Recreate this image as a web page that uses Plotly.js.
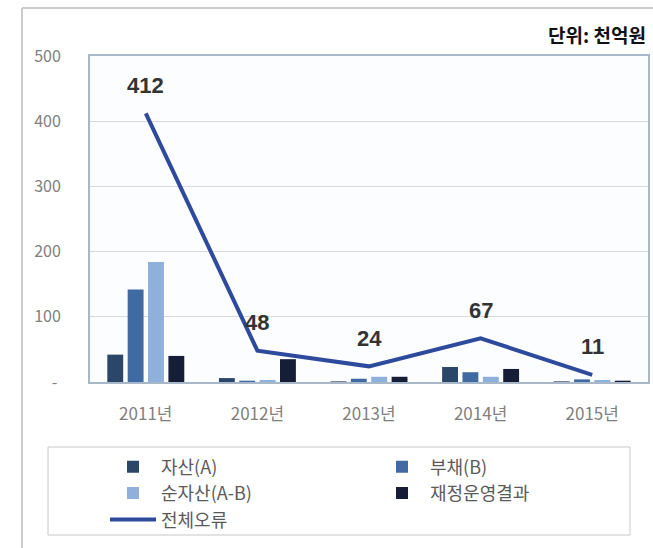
<!DOCTYPE html>
<html>
<head>
<meta charset="utf-8">
<script src="https://cdn.plot.ly/plotly-3.0.1.min.js"></script>
<style>
  html, body { margin: 0; padding: 0; background: #ffffff; }
  #chart { width: 653px; height: 548px; }
</style>
</head>
<body>
<div id="chart"></div>
<script>
// ---- data ----
var categories = ['2011년', '2012년', '2013년', '2014년', '2015년'];
var assets     = [42, 6, 1, 23, 1];      // 자산(A)
var liabilities = [142, 2, 5, 15, 4];    // 부채(B)
var netAssets  = [184, 3, 8, 8, 3];      // 순자산(A-B)
var opResult   = [40, 35, 8, 20, 2];     // 재정운영결과
var totalError = [412, 48, 24, 67, 11];  // 전체오류
var yTickVals  = [0, 100, 200, 300, 400, 500];
var yTickText  = ['-\u00a0', '100', '200', '300', '400', '500'];

var KFONT = '"Noto Sans CJK KR", "Noto Sans", sans-serif';

var traces = [
  { type: 'bar', name: '자산(A)', x: categories, y: assets, marker: { color: '#2c4669' } },
  { type: 'bar', name: '부채(B)', x: categories, y: liabilities, marker: { color: '#3f6aa2' } },
  { type: 'bar', name: '순자산(A-B)', x: categories, y: netAssets, marker: { color: '#8eb0db' } },
  { type: 'bar', name: '재정운영결과', x: categories, y: opResult, marker: { color: '#161d36' } },
  { type: 'scatter', mode: 'lines', name: '전체오류', x: categories, y: totalError,
    line: { color: '#2d4a9c', width: 4 } }
];

var annotations = totalError.map(function (v, i) {
  return {
    x: categories[i], y: v, xref: 'x', yref: 'y',
    text: String(v), showarrow: false, yshift: 28,
    font: { family: '"Liberation Sans", Arial, sans-serif', size: 22, color: '#333333', weight: 'bold' }
  };
});
annotations.push({
  xref: 'paper', yref: 'paper', x: 1, y: 1.065, xanchor: 'right', yanchor: 'middle',
  text: '<b>단위: 천억원</b>', showarrow: false,
  font: { family: KFONT, size: 19, color: '#111111' }
});

var layout = {
  width: 653, height: 548,
  margin: { l: 90, r: 5, t: 56, b: 166, autoexpand: false },
  paper_bgcolor: '#ffffff',
  plot_bgcolor: '#fbfdff',
  barmode: 'group',
  bargap: 0.27,
  bargroupgap: 0.22,
  showlegend: true,
  font: { family: KFONT, color: '#7f7f7f' },
  xaxis: {
    type: 'category',
    tickfont: { family: KFONT, size: 17, color: '#808080' },
    showline: true, linecolor: '#a8b8c8', linewidth: 2, mirror: true,
    ticks: '', showgrid: false, zeroline: false,
    ticklabelstandoff: 16
  },
  yaxis: {
    range: [0, 500],
    tickvals: yTickVals, ticktext: yTickText,
    tickfont: { family: KFONT, size: 16, color: '#808080' },
    showline: true, linecolor: '#a8b8c8', linewidth: 2, mirror: true,
    showgrid: true, gridcolor: '#d9d9d9', gridwidth: 1,
    zeroline: false, ticks: '',
    ticklabelstandoff: 24
  },
  legend: {
    orientation: 'h',
    x: 15 / 558, xanchor: 'left',
    y: (382 - 448.5) / 326, yanchor: 'top',
    entrywidth: 208, entrywidthmode: 'pixels',
    itemwidth: 46,
    borderwidth: 0,
    font: { family: KFONT, size: 18, color: '#5a5a5a' },
    bgcolor: 'rgba(0,0,0,0)',
    traceorder: 'normal'
  },
  shapes: [
    // legend box
    { type: 'rect', xref: 'paper', yref: 'paper',
      x0: (48 - 90) / 558, x1: (630 - 90) / 558,
      y0: (382 - 535) / 326, y1: (382 - 447) / 326,
      line: { color: '#c8c8c8', width: 1 }, fillcolor: 'rgba(0,0,0,0)' },
    // outer frame left
    { type: 'line', xref: 'paper', yref: 'paper',
      x0: (22 - 90) / 558, x1: (22 - 90) / 558,
      y0: (382 - 548) / 326, y1: (382 - 8) / 326,
      line: { color: '#cccccc', width: 2 } },
    // outer frame top
    { type: 'line', xref: 'paper', yref: 'paper',
      x0: (22 - 90) / 558, x1: (653 - 90) / 558,
      y0: (382 - 8) / 326, y1: (382 - 8) / 326,
      line: { color: '#cccccc', width: 2 } }
  ],
  annotations: annotations
};

Plotly.newPlot('chart', traces, layout, { displayModeBar: false, staticPlot: true });
</script>
</body>
</html>
